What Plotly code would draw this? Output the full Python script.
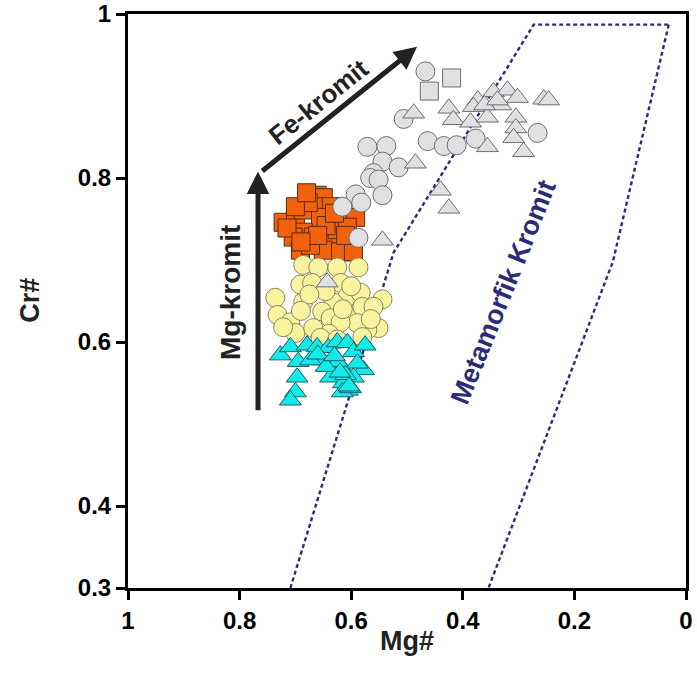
import plotly.graph_objects as go

# ---- data (Mg#, Cr#) ----
orange_mg = [0.722, 0.700, 0.673, 0.661, 0.650, 0.637, 0.668, 0.686, 0.655, 0.619, 0.592, 0.686, 0.704,
             0.668, 0.632, 0.601, 0.691, 0.650, 0.619, 0.596, 0.673, 0.715, 0.625, 0.607, 0.677,
             0.645, 0.630, 0.660, 0.690, 0.610, 0.700, 0.680]
orange_cr = [0.746, 0.749, 0.777, 0.779, 0.776, 0.765, 0.765, 0.761, 0.752, 0.752, 0.752, 0.734, 0.728,
             0.728, 0.721, 0.721, 0.712, 0.712, 0.710, 0.710, 0.718, 0.739, 0.737, 0.740, 0.770,
             0.742, 0.757, 0.730, 0.722, 0.730, 0.765, 0.782]

yellow_mg = [0.686, 0.659, 0.625, 0.587, 0.691, 0.670, 0.619, 0.736, 0.686, 0.607, 0.583, 0.544, 0.632, 0.652,
             0.605, 0.580, 0.560, 0.732, 0.709, 0.637, 0.700, 0.668, 0.551, 0.571, 0.722, 0.589, 0.619,
             0.646, 0.675, 0.600, 0.640, 0.655, 0.615, 0.690, 0.565, 0.580, 0.625]
yellow_cr = [0.694, 0.691, 0.691, 0.691, 0.670, 0.672, 0.672, 0.654, 0.649, 0.655, 0.660, 0.652, 0.648, 0.637,
             0.633, 0.643, 0.643, 0.633, 0.624, 0.629, 0.611, 0.617, 0.617, 0.615, 0.618, 0.623, 0.624,
             0.662, 0.658, 0.668, 0.610, 0.605, 0.640, 0.638, 0.628, 0.606, 0.603]

cyan_mg = [0.727, 0.709, 0.695, 0.697, 0.700, 0.709, 0.679, 0.661, 0.641, 0.625, 0.607, 0.596, 0.575,
           0.652, 0.616, 0.578, 0.637, 0.596, 0.614, 0.607, 0.616, 0.601, 0.673, 0.625, 0.589,
           0.660, 0.645, 0.630, 0.610, 0.604, 0.620]
cyan_cr = [0.584, 0.594, 0.576, 0.557, 0.539, 0.529, 0.596, 0.594, 0.593, 0.600, 0.599, 0.588, 0.596,
           0.578, 0.568, 0.566, 0.557, 0.557, 0.550, 0.541, 0.539, 0.544, 0.578, 0.576, 0.574,
           0.585, 0.570, 0.583, 0.560, 0.546, 0.563]

gray_circle_mg = [0.467, 0.506, 0.571, 0.537, 0.463, 0.434, 0.411, 0.377, 0.266, 0.544, 0.515, 0.560,
                  0.566, 0.551, 0.544, 0.592, 0.582, 0.616, 0.587]
gray_circle_cr = [0.930, 0.872, 0.838, 0.839, 0.845, 0.839, 0.840, 0.848, 0.855, 0.820, 0.813, 0.806,
                  0.800, 0.798, 0.779, 0.780, 0.770, 0.765, 0.727]

gray_square_mg = [0.420, 0.460]
gray_square_cr = [0.922, 0.906]

gray_tri_mg = [0.488, 0.425, 0.417, 0.386, 0.373, 0.381, 0.356, 0.345, 0.332, 0.320, 0.302, 0.305, 0.305,
               0.309, 0.291, 0.356, 0.485, 0.440, 0.425, 0.255, 0.246, 0.361, 0.338, 0.544, 0.643]
gray_tri_cr = [0.879, 0.885, 0.871, 0.868, 0.895, 0.887, 0.874, 0.905, 0.889, 0.907, 0.898, 0.874, 0.861,
               0.849, 0.832, 0.838, 0.818, 0.785, 0.763, 0.896, 0.895, 0.889, 0.895, 0.724, 0.673]

# metamorphic chromite field boundaries
field_left_mg = [0.709, 0.524, 0.273, 0.031]
field_left_cr = [0.300, 0.709, 0.987, 0.987]
field_right_mg = [0.031, 0.131, 0.354]
field_right_cr = [0.987, 0.698, 0.300]

x_ticks = [1, 0.8, 0.6, 0.4, 0.2, 0]
x_ticktext = ["1", "0.8", "0.6", "0.4", "0.2", "0"]
y_ticks = [1, 0.8, 0.6, 0.4, 0.3]
y_ticktext = ["1", "0.8", "0.6", "0.4", "0.3"]

navy = "#2E2A78"
FONT = "Liberation Sans, Arial"
fig = go.Figure()

fig.add_trace(go.Scatter(x=field_left_mg, y=field_left_cr, mode="lines",
                         line=dict(color=navy, width=2.4, dash="4px,3px"), hoverinfo="skip"))
fig.add_trace(go.Scatter(x=field_right_mg, y=field_right_cr, mode="lines",
                         line=dict(color=navy, width=2.4, dash="4px,3px"), hoverinfo="skip"))

fig.add_trace(go.Scatter(x=orange_mg, y=orange_cr, mode="markers",
                         marker=dict(symbol="square", size=18, color="#F2620C",
                                     line=dict(color="#5A2A10", width=1))))
fig.add_trace(go.Scatter(x=yellow_mg, y=yellow_cr, mode="markers",
                         marker=dict(symbol="circle", size=19, color="#F8F4A0",
                                     line=dict(color="#8A8660", width=1))))
fig.add_trace(go.Scatter(x=cyan_mg, y=cyan_cr, mode="markers",
                         marker=dict(symbol="triangle-up", size=19, color="#14EAEA",
                                     line=dict(color="#1A5E66", width=1))))
fig.add_trace(go.Scatter(x=gray_circle_mg, y=gray_circle_cr, mode="markers",
                         marker=dict(symbol="circle", size=19, color="#E0E0E2",
                                     line=dict(color="#6E6E6E", width=1))))
fig.add_trace(go.Scatter(x=gray_square_mg, y=gray_square_cr, mode="markers",
                         marker=dict(symbol="square", size=18, color="#E0E0E2",
                                     line=dict(color="#6E6E6E", width=1))))
fig.add_trace(go.Scatter(x=gray_tri_mg, y=gray_tri_cr, mode="markers",
                         marker=dict(symbol="triangle-up", size=19, color="#E0E0E2",
                                     line=dict(color="#6E6E6E", width=1))))

# arrows
fig.add_annotation(x=0.767, y=0.808, ax=0.767, ay=0.515, xref="x", yref="y", axref="x", ayref="y",
                   showarrow=True, arrowhead=2, arrowsize=0.9, arrowwidth=5, arrowcolor="#222222", text="")
fig.add_annotation(x=0.482, y=0.960, ax=0.762, ay=0.807, xref="x", yref="y", axref="x", ayref="y",
                   showarrow=True, arrowhead=2, arrowsize=0.9, arrowwidth=5, arrowcolor="#222222", text="")

fig.add_annotation(x=0.659, y=0.893, text="<b>Fe-kromit</b>", showarrow=False, textangle=-38.7,
                   font=dict(family=FONT, size=26, color="#222222"))
fig.add_annotation(x=0.815, y=0.660, text="<b>Mg-kromit</b>", showarrow=False, textangle=-90,
                   font=dict(family=FONT, size=28, color="#222222"))
fig.add_annotation(x=0.327, y=0.661, text="<b>Metamorfik Kromit</b>", showarrow=False, textangle=-68,
                   font=dict(family=FONT, size=27, color=navy))

# axis titles
fig.add_annotation(x=0.5, y=-0.093, xref="paper", yref="paper", text="<b>Mg#</b>", showarrow=False,
                   xanchor="center", yanchor="middle",
                   font=dict(family=FONT, size=27, color="#222222"))
fig.add_annotation(x=-0.176, y=0.502, xref="paper", yref="paper", text="<b>Cr#</b>", showarrow=False,
                   xanchor="center", yanchor="middle", textangle=-90,
                   font=dict(family=FONT, size=27, color="#222222"))

axis_common = dict(showline=True, linecolor="black", linewidth=3, mirror=True,
                   ticks="outside", ticklen=9, tickwidth=3, tickcolor="black",
                   showgrid=False, zeroline=False, automargin=False,
                   tickfont=dict(family=FONT, size=24, color="black"))

fig.update_layout(
    width=697, height=690,
    margin=dict(l=128, r=11, t=14, b=102),
    plot_bgcolor="white", paper_bgcolor="white",
    showlegend=False,
    xaxis=dict(range=[1, 0], tickvals=x_ticks, ticktext=["<b>%s</b>" % t for t in x_ticktext],
               **axis_common),
    yaxis=dict(range=[0.3, 1], tickvals=y_ticks, ticktext=["<b>%s</b>" % t for t in y_ticktext],
               **axis_common),
)

fig.write_html("out.html", config={"displayModeBar": False},
               post_script="document.body.style.margin='0';document.body.style.overflow='hidden';")
